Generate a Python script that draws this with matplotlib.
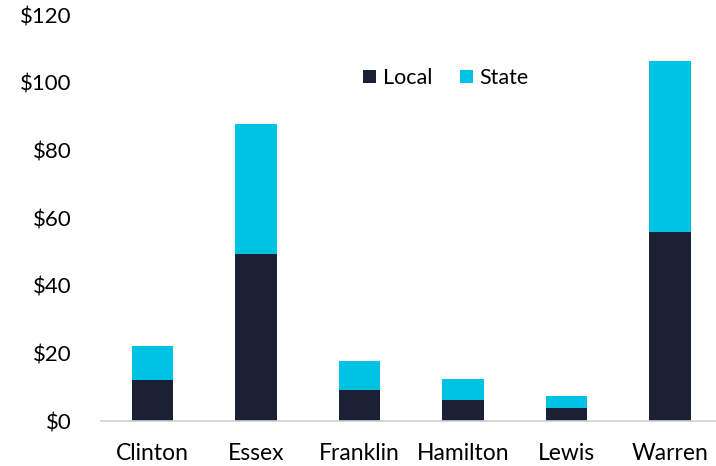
import matplotlib
matplotlib.use("Agg")
import matplotlib.pyplot as plt
import numpy as np

counties = ["Clinton", "Essex", "Franklin", "Hamilton", "Lewis", "Warren"]
local = [12.2, 49.5, 9.1, 6.3, 3.9, 55.8]
state = [10.1, 38.3, 8.6, 6.1, 3.5, 50.6]
y_ticks = [0, 20, 40, 60, 80, 100, 120]

plt.rcParams["font.family"] = ["Lato", "DejaVu Sans"]

fig = plt.figure(figsize=(7.16, 4.66), dpi=100)
ax = fig.add_axes([101 / 716, 1 - 421 / 466, 615 / 716, (421 - 15) / 466])

x = np.arange(len(counties))
ax.bar(x, local, width=0.4, color="#1b2134", label="Local")
ax.bar(x, state, width=0.4, bottom=local, color="#00c2e3", label="State")

ax.set_xlim(-0.5, 5.445)
ax.set_ylim(0, 120)
ax.set_yticks(y_ticks)
ax.set_yticklabels([f"${v}" for v in y_ticks])
ax.set_xticks(x)
ax.set_xticklabels(counties)

for side in ["top", "right", "left"]:
    ax.spines[side].set_visible(False)
ax.spines["bottom"].set_color("#d0d0d0")
ax.spines["bottom"].set_linewidth(1.2)
ax.tick_params(axis="both", length=0, colors="black")
ax.tick_params(axis="y", pad=21, labelsize=16)
ax.tick_params(axis="x", pad=16, labelsize=16.5)

fig.legend(loc="center", bbox_to_anchor=(446 / 716, 1 - 78 / 466), ncol=2,
           frameon=False, fontsize=15.5, handlelength=0.6, handleheight=0.6,
           handletextpad=0.3, columnspacing=1.3)

fig.savefig("out.png", dpi=100)
